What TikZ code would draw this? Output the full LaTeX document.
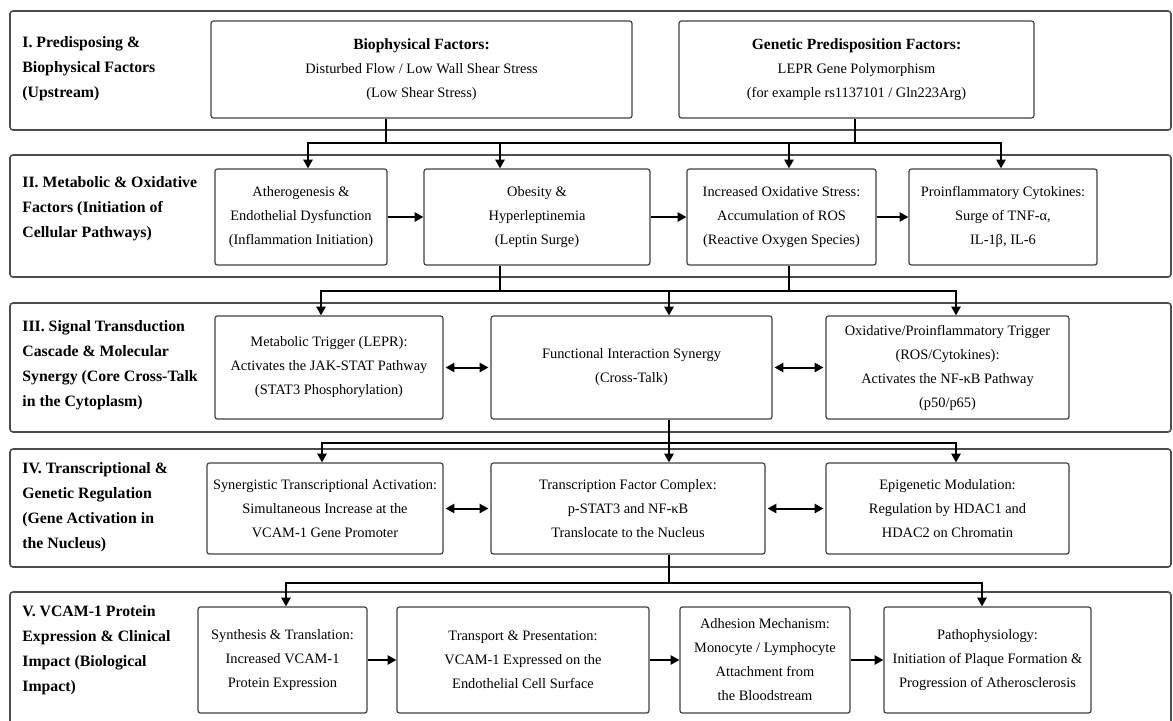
\documentclass[tikz,border=0pt]{standalone}
\usepackage{fontspec}
\setmainfont{Liberation Serif}
\usetikzlibrary{arrows.meta}

\newcommand{\boxtitle}[1]{{\fontsize{7.8}{12}\selectfont\bfseries #1}}

\tikzset{
	box/.style={draw=black!75,line width=0.6pt,rounded corners=1.2pt,align=center,inner sep=0pt,font=\fontsize{7.2}{12}\selectfont},
	sz/.style 2 args={minimum width=#1*0.5pt,minimum height=#2*0.5pt},
	band/.style={draw=black!70,line width=0.8pt,rounded corners=1.5pt},
	lab/.style={anchor=west,align=left,inner sep=0pt,font=\fontsize{7.9}{12.5}\selectfont\bfseries},
	link/.style={line width=1pt},
	arr/.style={link,-{Triangle[length=4.4pt,width=4.6pt]}},
	biarr/.style={link,{Triangle[length=4.4pt,width=4.6pt]}-{Triangle[length=4.4pt,width=4.6pt]},shorten <=1pt,shorten >=1pt},
}

\begin{document}
\begin{tikzpicture}[x=0.5pt,y=-0.5pt]
	\useasboundingbox (0,0) rectangle (1173,720);

	\draw[band] (10,11) rectangle (1171,130);
	\draw[band] (10,155) rectangle (1171,277);
	\draw[band] (10,303) rectangle (1171,432);
	\draw[band] (10,449) rectangle (1171,567);
	\draw[band] (10,592) rectangle (1171,726);

	\node[lab] (labI) at (22,69) {I. Predisposing \&\\Biophysical Factors\\(Upstream)};
	\node[lab] (labII) at (22,209) {II. Metabolic \& Oxidative\\Factors (Initiation of\\Cellular Pathways)};
	\node[lab] (labIII) at (22,365) {III. Signal Transduction\\Cascade \& Molecular\\Synergy (Core Cross-Talk\\in the Cytoplasm)};
	\node[lab] (labIV) at (22,507) {IV. Transcriptional \&\\Genetic Regulation\\(Gene Activation in\\the Nucleus)};
	\node[lab] (labV) at (22,650) {V. VCAM-1 Protein\\Expression \& Clinical\\Impact (Biological\\Impact)};

	\node[box,sz={421}{97}] (bio) at (421.5,69.5) {\boxtitle{Biophysical Factors:}\\Disturbed Flow / Low Wall Shear Stress\\(Low Shear Stress)};
	\node[box,sz={355}{97}] (gen) at (856.5,69.5) {\boxtitle{Genetic Predisposition Factors:}\\LEPR Gene Polymorphism\\(for example rs1137101 / Gln223Arg)};

	\node[box,sz={172}{96}] (athero) at (301,217) {Atherogenesis \&\\Endothelial Dysfunction\\(Inflammation Initiation)};
	\node[box,sz={226}{96}] (obes) at (537,217) {Obesity \&\\Hyperleptinemia\\(Leptin Surge)};
	\node[box,sz={189}{96}] (ros) at (781.5,217) {Increased Oxidative Stress:\\Accumulation of ROS\\(Reactive Oxygen Species)};
	\node[box,sz={188}{96}] (cyto) at (1003,217) {Proinflammatory Cytokines:\\Surge of TNF-α,\\IL-1β, IL-6};

	\node[box,sz={228}{103}] (jak) at (329,367.5) {Metabolic Trigger (LEPR):\\Activates the JAK-STAT Pathway\\(STAT3 Phosphorylation)};
	\node[box,sz={281}{103}] (syn) at (631.5,367.5) {Functional Interaction Synergy\\(Cross-Talk)};
	\node[box,sz={243}{103}] (nfkb) at (947.5,367.5) {Oxidative/Proinflammatory Trigger\\(ROS/Cytokines):\\Activates the NF-κB Pathway\\(p50/p65)};

	\node[box,sz={236}{91}] (prom) at (325,508.5) {Synergistic Transcriptional Activation:\\Simultaneous Increase at the\\VCAM-1 Gene Promoter};
	\node[box,sz={274}{91}] (tfc) at (628,508.5) {Transcription Factor Complex:\\p-STAT3 and NF-κB\\Translocate to the Nucleus};
	\node[box,sz={243}{91}] (hdac) at (947.5,508.5) {Epigenetic Modulation:\\Regulation by HDAC1 and\\HDAC2 on Chromatin};

	\node[box,sz={169}{106}] (synth) at (282.5,660) {Synthesis \& Translation:\\Increased VCAM-1\\Protein Expression};
	\node[box,sz={252}{106}] (trans) at (523,660) {Transport \& Presentation:\\VCAM-1 Expressed on the\\Endothelial Cell Surface};
	\node[box,sz={170}{106}] (adh) at (765,660) {Adhesion Mechanism:\\Monocyte / Lymphocyte\\Attachment from\\the Bloodstream};
	\node[box,sz={207}{106}] (path) at (987.5,660) {Pathophysiology:\\Initiation of Plaque Formation \&\\Progression of Atherosclerosis};

	\coordinate (s1a) at (386,143);
	\coordinate (s1b) at (855,143);
	\coordinate (t1) at (308,143);
	\coordinate (t2) at (500,143);
	\coordinate (t3) at (789,143);
	\coordinate (t4) at (1001,143);
	\draw[link] (bio.south -| s1a) -- (s1a) -- (s1b) -- (gen.south -| s1b);
	\draw[arr] (s1a) -| (athero.north -| t1);
	\draw[arr] (s1a) -| (obes.north -| t2);
	\draw[arr] (s1b) -| (ros.north -| t3);
	\draw[arr] (s1b) -| (cyto.north -| t4);

	\coordinate (s2a) at (500,291);
	\coordinate (s2b) at (789,291);
	\coordinate (u1) at (321,291);
	\coordinate (u2) at (669,291);
	\coordinate (u3) at (956,291);
	\draw[link] (obes.south -| s2a) -- (s2a) -- (s2b) -- (ros.south -| s2b);
	\draw[arr] (s2a) -| (jak.north -| u1);
	\draw[arr] (s2a) -| (syn.north -| u2);
	\draw[arr] (s2b) -| (nfkb.north -| u3);

	\coordinate (s3) at (669,443);
	\coordinate (v1) at (322,443);
	\coordinate (v3) at (956,443);
	\draw[link] (syn.south -| s3) -- (s3);
	\draw[arr] (s3) -| (prom.north -| v1);
	\draw[arr] (s3) -- (tfc.north -| s3);
	\draw[arr] (s3) -| (hdac.north -| v3);

	\coordinate (s4) at (669,583);
	\coordinate (w1) at (286,583);
	\coordinate (w4) at (982,583);
	\draw[link] (tfc.south -| s4) -- (s4);
	\draw[arr] (s4) -| (synth.north -| w1);
	\draw[arr] (s4) -| (path.north -| w4);

	\foreach \a/\b in {athero/obes,obes/ros,ros/cyto,synth/trans,trans/adh,adh/path}
		\draw[arr] (\a) -- (\b);
	\foreach \a/\b in {jak/syn,syn/nfkb,prom/tfc,tfc/hdac}
		\draw[biarr] (\a) -- (\b);
\end{tikzpicture}
\end{document}
